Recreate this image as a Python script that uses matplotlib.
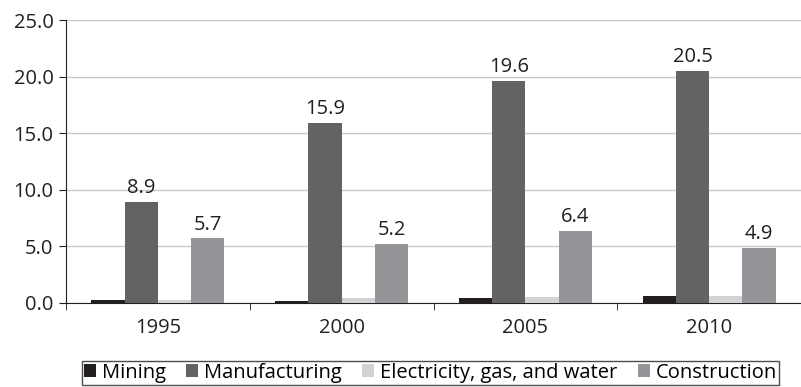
import numpy as np
import matplotlib.pyplot as plt

years = ['1995', '2000', '2005', '2010']
series_names = ['Mining', 'Manufacturing', 'Electricity, gas, and water', 'Construction']
mining = [0.3, 0.2, 0.4, 0.6]
manufacturing = [8.9, 15.9, 19.6, 20.5]
electricity = [0.3, 0.4, 0.5, 0.6]
construction = [5.7, 5.2, 6.4, 4.9]
colors = ['#231f20', '#636365', '#d1d2d4', '#939598']

plt.rcParams['font.family'] = ['Open Sans', 'DejaVu Sans']
fs = 14.5

fig = plt.figure(figsize=(8.01, 3.87), dpi=100)
ax = fig.add_axes([66/801, (387-303)/387, (801-66)/801, (303-20)/387])

x = np.arange(len(years))
w = 0.181
all_series = [mining, manufacturing, electricity, construction]
for i, (vals, name, c) in enumerate(zip(all_series, series_names, colors)):
    bars = ax.bar(x + (i - 1.5) * w, vals, w, color=c, label=name, zorder=3)
    if name in ('Manufacturing', 'Construction'):
        for b, v in zip(bars, vals):
            ax.text(b.get_x() + b.get_width()/2, v + 0.35, f'{v:.1f}',
                    ha='center', va='bottom', fontsize=fs, color='#231f20')

ax.set_xlim(-0.5, 3.5)
ax.set_ylim(0, 25)
ax.set_yticks(np.arange(0, 26, 5))
ax.set_yticklabels([f'{t:.1f}' for t in np.arange(0, 26, 5)], fontsize=fs, color='#231f20')
ax.yaxis.grid(True, color='#c8c8c8', linewidth=1, zorder=0)
ax.set_xticks(x)
ax.set_xticklabels(years, fontsize=fs, color='#231f20')
ax.tick_params(axis='x', length=0, pad=11)
ax.set_xticks(np.arange(-0.5, 4, 1), minor=True)
ax.tick_params(axis='x', which='minor', length=5, direction='out', color='#231f20')
ax.tick_params(axis='y', length=5, color='#231f20', pad=4)
for s in ['top', 'right']:
    ax.spines[s].set_visible(False)
for s in ['left', 'bottom']:
    ax.spines[s].set_color('#231f20')

leg = fig.legend(loc='lower left', bbox_to_anchor=(80/801, 0.0), ncol=4, fontsize=fs,
                 frameon=True, fancybox=False, edgecolor='#231f20', handlelength=0.6,
                 handleheight=0.6, handletextpad=0.3, columnspacing=1.0,
                 borderpad=0.1, borderaxespad=0.1)
leg.get_frame().set_linewidth(1)

plt.savefig('out.png', dpi=100)
